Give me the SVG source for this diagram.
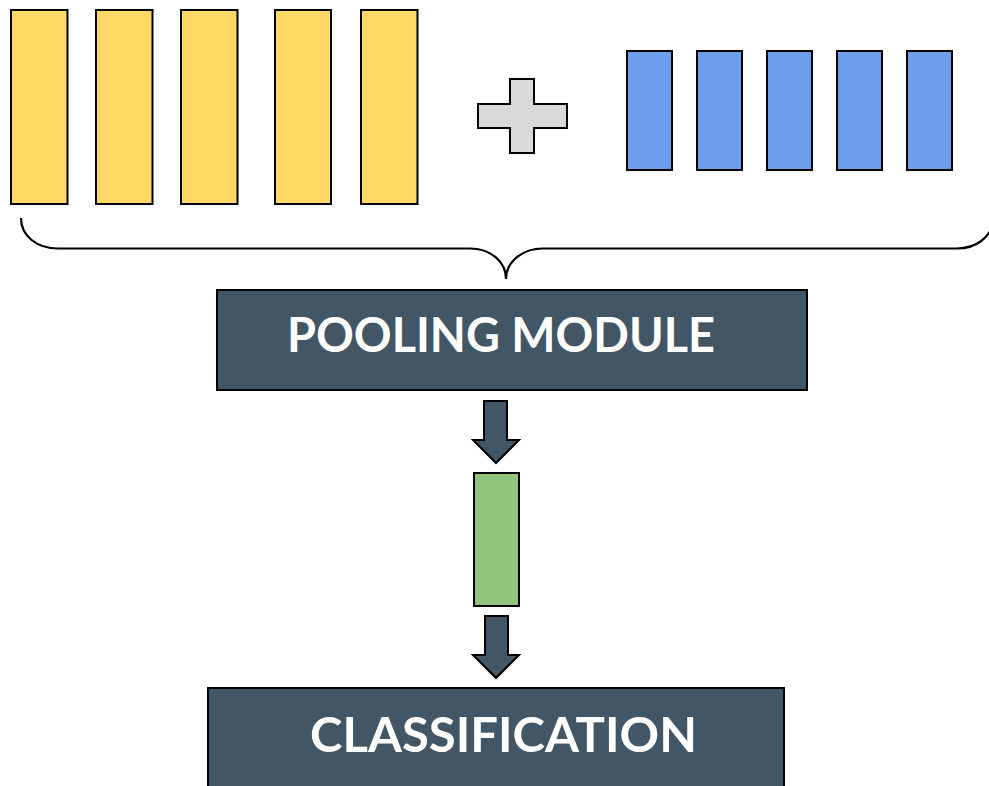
<svg xmlns="http://www.w3.org/2000/svg" width="989" height="786" viewBox="0 0 989 786">
<style>
.y{fill:#ffd966;stroke:#000;stroke-width:2}
.b{fill:#6d9eeb;stroke:#000;stroke-width:2}
.g{fill:#93c47d;stroke:#000;stroke-width:2}
.box{fill:#425665;stroke:#000;stroke-width:2}
.arr{fill:#425665;stroke:#000;stroke-width:2;stroke-linejoin:miter}
.lbl{fill:#fff;font-family:Lato,"Open Sans","Liberation Sans",sans-serif;font-weight:700;font-size:48px}
.brace{fill:none;stroke:#000;stroke-width:2.2}
</style>
<rect width="989" height="786" fill="#fff"/>
<g id="yellow-blocks">
<rect class="y" x="11" y="10" width="56.5" height="194"/>
<rect class="y" x="96" y="10" width="56.5" height="194"/>
<rect class="y" x="181" y="10" width="56.5" height="194"/>
<rect class="y" x="275" y="10" width="56" height="194"/>
<rect class="y" x="361" y="10" width="56.5" height="194"/>
</g>
<g id="plus">
<path d="M510,79 H534 V104 H567 V128 H534 V153 H510 V128 H478 V104 H510 Z" fill="#d9d9d9" stroke="#000" stroke-width="2"/>
</g>
<g id="blue-blocks">
<rect class="b" x="627" y="51" width="45" height="119"/>
<rect class="b" x="697" y="51" width="45" height="119"/>
<rect class="b" x="767" y="51" width="45" height="119"/>
<rect class="b" x="837" y="51" width="45" height="119"/>
<rect class="b" x="907" y="51" width="45" height="119"/>
</g>
<g id="brace">
<path class="brace" d="M21,218 C21,236 37,248.5 58,248.5 L470,248.5 C491,248.5 506,262 506,279 C506,262 522,248.5 543,248.5 L957,248.5 C976,248.5 990,238 995,220"/>
</g>
<g id="pooling-module">
<rect class="box" x="217" y="290" width="590" height="100"/>
<text class="lbl" x="287" y="352" textLength="428" lengthAdjust="spacingAndGlyphs">POOLING MODULE</text>
</g>
<g id="green-vector">
<rect class="g" x="474" y="473" width="45" height="133"/>
</g>
<g id="classification">
<rect class="box" x="208" y="688" width="576" height="110"/>
<text class="lbl" x="310" y="752" textLength="387" lengthAdjust="spacingAndGlyphs">CLASSIFICATION</text>
</g>
<g id="connectors">
<path class="arr" d="M484,401 H507 V440 H519 L496,463 L473,440 H484 Z"/>
<path class="arr" d="M485,616 H508 V655 H519 L496,678 L473,655 H485 Z"/>
</g>
</svg>
